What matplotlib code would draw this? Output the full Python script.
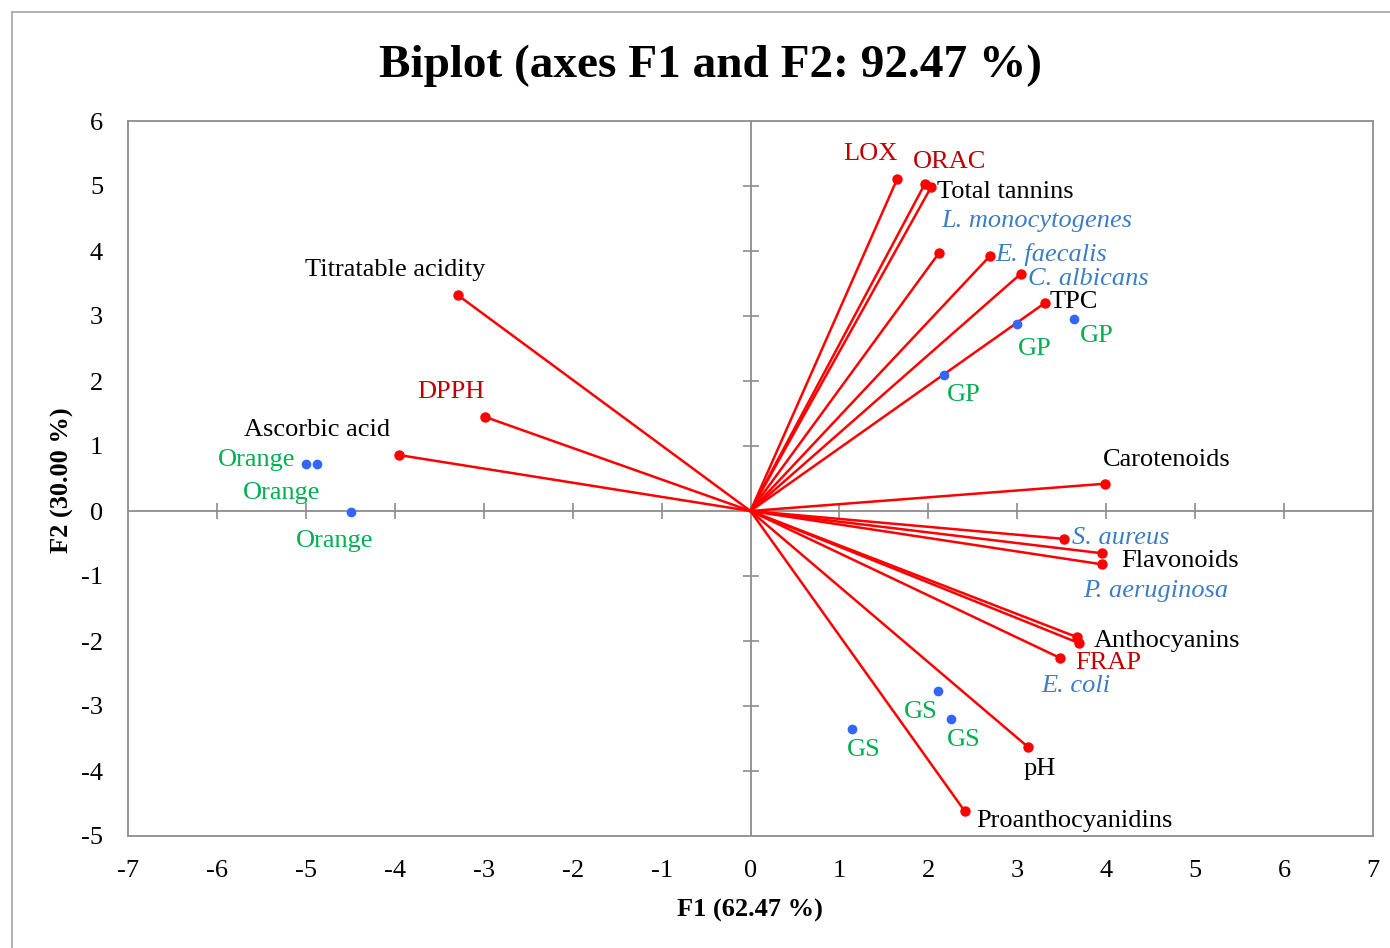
import matplotlib.pyplot as plt
from matplotlib.lines import Line2D

plt.rcParams['font.family'] = ['Liberation Serif', 'DejaVu Serif']
plt.rcParams['axes.unicode_minus'] = False

# variables (red vectors)
var_names = ["LOX", "ORAC", "Total tannins", "L. monocytogenes", "E. faecalis",
             "C. albicans", "TPC", "Titratable acidity", "DPPH", "Ascorbic acid",
             "Carotenoids", "S. aureus", "Flavonoids", "P. aeruginosa",
             "Anthocyanins", "FRAP", "E. coli", "pH", "Proanthocyanidins"]
var_f1 = [1.65, 1.96, 2.03, 2.12, 2.69, 3.04, 3.31, -3.29, -2.99, -3.95,
          3.99, 3.53, 3.95, 3.95, 3.67, 3.69, 3.48, 3.12, 2.41]
var_f2 = [5.11, 5.03, 4.98, 3.97, 3.92, 3.65, 3.20, 3.32, 1.45, 0.86,
          0.42, -0.43, -0.65, -0.82, -1.94, -2.03, -2.26, -3.63, -4.62]
var_kind = ["assay", "assay", "compound", "microbe", "microbe", "microbe",
            "compound", "compound", "assay", "compound", "compound", "microbe",
            "compound", "microbe", "compound", "assay", "microbe", "compound",
            "compound"]

# observations (blue points)
obs_names = ["Orange", "Orange", "Orange", "GP", "GP", "GP", "GS", "GS", "GS"]
obs_f1 = [-5.00, -4.88, -4.49, 3.00, 3.64, 2.18, 2.11, 2.25, 1.14]
obs_f2 = [0.72, 0.72, -0.02, 2.88, 2.95, 2.09, -2.77, -3.20, -3.35]

# label placement (offset in pixels, horizontal alignment)
var_offsets = [(-27, 28, 'center'), (25, 25, 'center'), (6, -2, 'left'),
               (2, 35, 'left'), (6, 5, 'left'), (7, -2, 'left'), (5, 4, 'left'),
               (-63, 28, 'center'), (-34, 28, 'center'), (-82, 28, 'center'),
               (61, 27, 'center'), (8, 4, 'left'), (19, -5, 'left'),
               (54, -24, 'center'), (17, -1, 'left'), (-3, -17, 'left'),
               (-19, -25, 'left'), (12, -19, 'center'), (11, -7, 'left')]
obs_offsets = [(-49, 7), (-35, -26), (-17, -26), (17, -22), (23, -14),
               (19, -17), (-17, -18), (13, -18), (12, -18)]
DY = -3  # small shift so text sits like the original

kind_style = {
    "assay": dict(color="#C00000"),
    "compound": dict(color="black"),
    "microbe": dict(color="#3C7DC4", style="italic"),
}

FS = 19

fig = plt.figure(figsize=(13.9, 9.48), dpi=100)
ax = fig.add_axes([128 / 1390, 1 - 836 / 948, (1373 - 128) / 1390, (836 - 121) / 948])

# outer frame of the chart area
fig.add_artist(Line2D([12 / 1390, 12 / 1390], [0, 1 - 12 / 948], color="#A6A6A6", lw=1.2))
fig.add_artist(Line2D([12 / 1390, 1], [1 - 12 / 948, 1 - 12 / 948], color="#A6A6A6", lw=1.2))

ax.set_xlim(-7, 7)
ax.set_ylim(-5, 6)
ax.set_xticks(range(-7, 8))
ax.set_yticks(range(-5, 7))
ax.tick_params(length=0, labelsize=FS)
ax.tick_params(axis="x", pad=17)
ax.tick_params(axis="y", pad=18)
for s in ax.spines.values():
    s.set_color("#8C8C8C")
    s.set_linewidth(1.3)

# zero axes with cross ticks
xt = [v for v in range(-6, 7) if v != 0]
yt = [v for v in range(-4, 6) if v != 0]
ax.axhline(0, color="#8C8C8C", lw=1.3, zorder=1)
ax.axvline(0, color="#8C8C8C", lw=1.3, zorder=1)
ax.plot(xt, [0] * len(xt), ls="none", marker="|",
        ms=11, mew=1.2, color="#8C8C8C", zorder=1)
ax.plot([0] * len(yt), yt, ls="none", marker="_",
        ms=11, mew=1.2, color="#8C8C8C", zorder=1)

# vectors
for x, y in zip(var_f1, var_f2):
    ax.plot([0, x], [0, y], color="#FF0000", lw=1.8, zorder=2)
ax.plot(var_f1, var_f2, ls="none", marker="o", ms=6.5, color="#FF0000", zorder=3)

for name, x, y, kind, (dx, dy, ha) in zip(var_names, var_f1, var_f2, var_kind, var_offsets):
    st = kind_style[kind]
    ax.annotate(name, (x, y), xytext=(dx, dy + DY), textcoords="offset pixels",
                ha=ha, va="center", fontsize=FS, color=st["color"],
                fontstyle=st.get("style", "normal"))

# observations
ax.plot(obs_f1, obs_f2, ls="none", marker="o", ms=6, color="#3366FF", zorder=3)
for name, x, y, (dx, dy) in zip(obs_names, obs_f1, obs_f2, obs_offsets):
    ax.annotate(name, (x, y), xytext=(dx, dy + DY), textcoords="offset pixels",
                ha="center", va="center", fontsize=FS, color="#00B050")

fig.text(710 / 1390, 1 - 66 / 948, "Biplot (axes F1 and F2: 92.47 %)",
         ha="center", va="center", fontsize=34, fontweight="bold")
fig.text(750 / 1390, 1 - 910 / 948, "F1 (62.47 %)", ha="center", va="center",
         fontsize=FS, fontweight="bold")
fig.text(62 / 1390, 1 - 480 / 948, "F2 (30.00 %)", ha="center", va="center",
         rotation=90, fontsize=FS, fontweight="bold")

fig.savefig("out.png", dpi=100)
